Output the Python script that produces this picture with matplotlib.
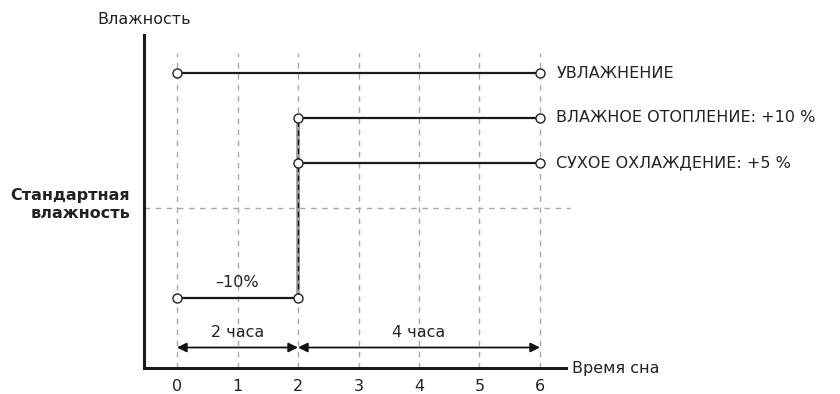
import matplotlib
matplotlib.use("Agg")
import matplotlib.pyplot as plt

plt.rcParams['font.family'] = ['DejaVu Sans']

# data
hours = [0, 1, 2, 3, 4, 5, 6]
hum_x = [0, 6]; hum_y = [15, 15]
heat_x = [2, 6]; heat_y = [10, 10]
cool_x = [2, 6]; cool_y = [5, 5]
low_x = [0, 2]; low_y = [-10, -10]
step_x = [2, 2]; step_y = [-10, 10]
standard = 0
labels = ['УВЛАЖНЕНИЕ', 'ВЛАЖНОЕ ОТОПЛЕНИЕ: +10 %', 'СУХОЕ ОХЛАЖДЕНИЕ: +5 %']
label_y = [15, 10, 5]
low_label = '–10%'
spans = [(0, 2, '2 часа'), (2, 6, '4 часа')]
span_y = -15.5

FS = 11.5
W, H = 840, 394
fig = plt.figure(figsize=(8.4, 3.94), dpi=100)
x0px, x1px, ytop, ybot = 144, 566, 35, 368
ax = fig.add_axes([x0px / W, (H - ybot) / H, (x1px - x0px) / W, (ybot - ytop) / H])
xl = (x0px - 177) / 60.5
xr = (x1px - 177) / 60.5
yb = (208 - ybot) / 9.0
yt = (208 - ytop) / 9.0
ax.set_xlim(xl, xr)
ax.set_ylim(yb, yt)
for s in ['top', 'right']:
    ax.spines[s].set_visible(False)
for s in ['left', 'bottom']:
    ax.spines[s].set_linewidth(2.2)
    ax.spines[s].set_color('#1a1a1a')
ax.set_yticks([])
ax.set_xticks(hours)
ax.set_xticklabels([str(h) for h in hours], fontsize=FS, color='#222222')
ax.tick_params(axis='x', length=0, pad=8)

gcol = '#a8a8a8'
vtop = (208 - 53) / 9.0
for h in hours:
    ax.plot([h, h], [yb, vtop], color=gcol, lw=1.0, ls=(0, (4, 4)), zorder=1)
ax.plot([xl, (570 - 177) / 60.5], [standard, standard], color=gcol, lw=1.0,
        ls=(0, (4, 4)), zorder=1, clip_on=False)

# step vertical
ax.plot(step_x, step_y, color='#9a9a9a', lw=2.6, zorder=2, solid_capstyle='butt')
ax.plot(step_x, step_y, color='#111111', lw=1.0, ls=(0, (4, 2.5)), zorder=3)

mk = dict(marker='o', ms=6.5, mfc='white', mec='#222222', mew=1.0)
for xs, ys in [(hum_x, hum_y), (heat_x, heat_y), (cool_x, cool_y), (low_x, low_y)]:
    ax.plot(xs, ys, color='#1a1a1a', lw=1.6, zorder=4, clip_on=False, **mk)

for lab, yv in zip(labels, label_y):
    ax.text(6.27, yv, lab, fontsize=FS, va='center', ha='left', color='#222222',
            clip_on=False)

ax.text(1.0, -8.3, low_label, fontsize=FS, ha='center', va='center', color='#222222')

for a, b, t in spans:
    ax.annotate('', xy=(a, span_y), xytext=(b, span_y),
                arrowprops=dict(arrowstyle='<|-|>', color='#111111', lw=1.3,
                                mutation_scale=14, shrinkA=0, shrinkB=0))
    ax.text((a + b) / 2, -13.8, t, fontsize=FS, ha='center', va='center', color='#222222')

fig.text(97 / W, 1 - 20 / H, 'Влажность', fontsize=FS, ha='left', va='center', color='#222222')
fig.text(572 / W, 1 - 368 / H, 'Время сна', fontsize=FS, ha='left', va='center', color='#222222')
fig.text(130 / W, 1 - 205 / H, 'Стандартная\nвлажность', fontsize=FS, ha='right',
         va='center', fontweight='bold', color='#222222', linespacing=1.25)

fig.savefig('out.png', dpi=100)
